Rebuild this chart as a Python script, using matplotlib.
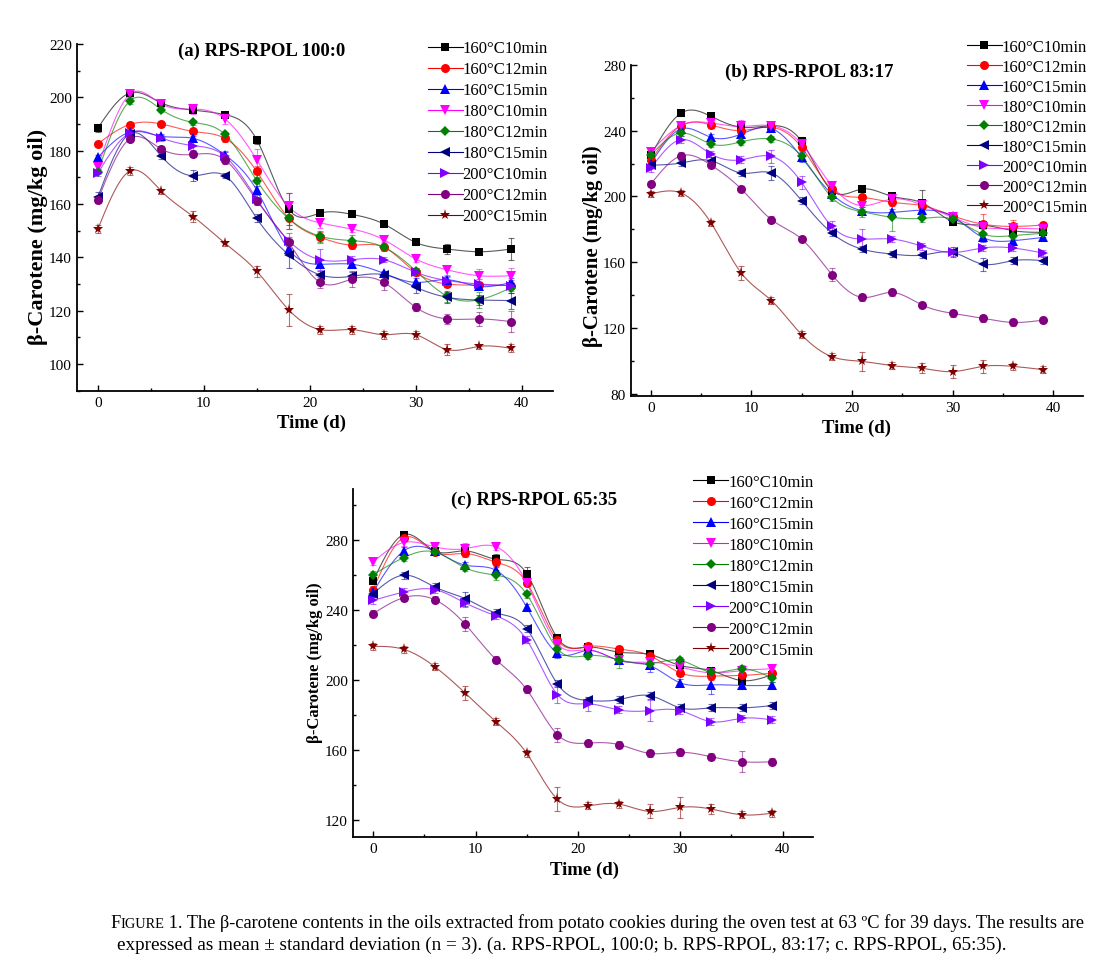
import numpy as np
import matplotlib
matplotlib.use('Agg')
import matplotlib.pyplot as plt
from matplotlib.lines import Line2D
from matplotlib.ticker import MultipleLocator

plt.rcParams['font.family'] = ['Liberation Serif', 'DejaVu Serif']
plt.rcParams['mathtext.fontset'] = 'stix'

# --- dữ liệu ---
days = [0, 3, 6, 9, 12, 15, 18, 21, 24, 27, 30, 33, 36, 39]
labels = ['160°C10min', '160°C12min', '160°C15min', '180°C10min', '180°C12min',
          '180°C15min', '200°C10min', '200°C12min', '200°C15min']

# (a) RPS-RPOL 100:0
a_vals = [
    [188.5, 201.6, 197.9, 195.2, 193.5, 184.1, 158.1, 156.6, 156.1, 152.5, 145.6, 143.1, 142.1, 143.1],
    [182.6, 189.8, 190.0, 187.2, 184.6, 172.2, 154.8, 147.5, 144.6, 143.8, 134.4, 130.0, 129.6, 129.4],
    [177.5, 186.9, 185.4, 184.6, 178.4, 165.2, 143.1, 137.4, 137.4, 134.0, 130.6, 131.6, 129.1, 130.6],
    [174.0, 201.1, 197.5, 195.6, 191.9, 176.6, 159.1, 152.9, 150.6, 146.6, 139.4, 135.3, 133.1, 133.1],
    [172.1, 198.6, 195.4, 190.6, 186.1, 168.8, 154.6, 147.9, 146.3, 143.8, 135.0, 125.4, 124.1, 128.6],
    [162.5, 186.3, 177.9, 170.6, 170.6, 154.6, 141.0, 133.4, 132.9, 133.5, 128.8, 125.0, 124.0, 123.8],
    [171.6, 186.6, 184.8, 181.9, 177.9, 161.9, 146.3, 139.1, 139.1, 139.1, 134.4, 131.3, 130.0, 129.4],
    [161.5, 184.4, 180.6, 178.6, 176.6, 161.3, 145.6, 130.6, 131.9, 130.6, 121.3, 116.9, 116.9, 115.9],
    [150.6, 172.3, 164.8, 155.3, 145.3, 134.8, 120.4, 112.9, 112.9, 111.0, 111.0, 105.4, 106.6, 105.9],
]
a_err = [
    [1.5, 1, 1, 1, 1, 1.5, 6, 1, 1, 1, 1, 2, 1, 4],
    [1, 1, 1, 1, 1.5, 2, 4, 2, 1.5, 1, 1, 1, 1, 1],
    [1, 1, 1, 1, 1, 1.5, 2, 1.5, 1.5, 1, 1.5, 1.5, 1, 1.5],
    [1, 1, 1, 2, 2, 4, 5, 2, 1, 1, 1, 2, 2.5, 3],
    [1, 1, 1, 1, 1, 1, 4, 2, 2, 1.5, 1, 2, 3, 2],
    [2, 1, 1, 2, 1, 1.5, 5, 1.5, 1.5, 1, 2, 2, 2, 3],
    [1, 1, 1, 1.5, 2, 1.5, 3, 4, 1.5, 1, 1.5, 1.5, 2, 2],
    [1, 1, 1, 1, 1.5, 1.5, 2, 2, 3, 3, 1.5, 2, 2.5, 4],
    [1.5, 1.5, 1, 2, 1, 2, 6, 1.5, 1.5, 1.5, 1.5, 2, 1, 1.5],
]

# (b) RPS-RPOL 83:17
b_vals = [
    [225.0, 250.6, 248.6, 242.0, 243.0, 233.4, 203.5, 204.5, 200.0, 196.0, 184.7, 182.6, 179.2, 178.2],
    [222.0, 243.0, 243.4, 240.0, 242.0, 229.8, 204.5, 199.4, 196.4, 194.4, 188.3, 183.2, 181.8, 182.6],
    [220.0, 241.0, 235.9, 237.9, 241.3, 223.7, 201.5, 191.3, 190.3, 191.7, 187.9, 175.1, 173.1, 175.1],
    [227.2, 243.0, 244.6, 242.5, 243.0, 231.8, 206.5, 194.4, 198.4, 194.8, 187.3, 181.2, 180.6, 180.2],
    [225.0, 238.5, 231.8, 233.2, 234.9, 224.3, 199.4, 190.7, 187.3, 186.7, 186.3, 177.2, 176.2, 177.6],
    [219.0, 220.3, 221.7, 214.2, 214.2, 197.4, 177.8, 168.0, 165.0, 164.4, 166.0, 158.9, 161.0, 161.0],
    [217.0, 234.5, 225.7, 222.3, 224.3, 208.5, 181.8, 174.1, 174.1, 169.7, 166.0, 168.7, 168.7, 165.6],
    [207.5, 224.7, 219.0, 204.5, 185.9, 174.1, 152.5, 138.7, 141.7, 134.0, 129.0, 126.0, 123.5, 124.9],
    [201.5, 202.1, 183.8, 153.5, 136.7, 116.0, 102.7, 99.8, 97.2, 95.6, 93.6, 96.8, 96.8, 94.8],
]
b_err = [
    [2, 2, 2, 2, 2, 3, 2, 1.5, 2, 8, 2, 2, 2, 1.5],
    [2, 2, 2, 2, 2, 2, 2, 2, 2, 2, 2, 6, 4, 2],
    [2, 2, 2, 2, 2, 3, 2, 2, 2, 2, 2, 3, 2, 2],
    [2, 2, 2, 4, 2, 2, 2, 2, 2, 2, 2, 3, 3, 2],
    [2, 2, 2, 2, 2, 2, 2, 3, 8, 2, 2, 3, 2, 2],
    [2, 2, 2, 2, 4, 2, 2, 2, 2, 2, 3, 4, 2, 2],
    [2, 2, 2, 2, 4, 4, 3, 6, 2, 2, 2, 2, 2, 2],
    [2, 2, 2, 2, 2, 2, 4, 2, 2, 2, 2, 2, 2, 2],
    [2, 2, 2, 4, 2, 2, 2, 6, 2, 3, 4, 4, 2, 2],
]

# (c) RPS-RPOL 65:35
c_vals = [
    [256.5, 283.0, 273.7, 273.7, 268.9, 260.7, 223.9, 218.7, 215.8, 214.5, 208.2, 205.3, 199.6, 203.0],
    [251.6, 281.3, 273.1, 272.2, 267.2, 255.6, 222.5, 219.1, 217.6, 213.9, 204.0, 202.1, 202.5, 203.8],
    [250.2, 273.7, 273.7, 265.5, 262.6, 241.6, 215.3, 216.8, 211.1, 208.2, 198.3, 197.1, 196.8, 196.8],
    [267.4, 278.5, 276.0, 275.0, 276.0, 255.4, 220.6, 217.2, 211.1, 210.1, 207.3, 204.0, 205.3, 206.3],
    [260.1, 269.9, 273.1, 264.0, 259.8, 248.9, 217.8, 213.9, 211.5, 209.2, 211.1, 204.4, 206.3, 201.0],
    [249.3, 259.8, 253.1, 246.4, 238.2, 229.2, 197.7, 188.2, 188.7, 191.0, 184.0, 184.0, 184.0, 185.3],
    [245.4, 250.2, 251.6, 243.9, 236.5, 222.9, 191.6, 186.3, 182.8, 182.4, 182.4, 176.1, 178.0, 177.1],
    [237.8, 247.0, 245.8, 231.7, 211.6, 194.5, 168.7, 163.9, 163.0, 158.0, 158.6, 156.1, 153.2, 153.2],
    [219.1, 217.4, 207.6, 192.4, 176.1, 158.0, 131.8, 128.0, 129.0, 124.8, 127.1, 126.2, 122.9, 123.8],
]
c_err = [
    [2, 2, 2, 2, 3, 4, 2, 2, 2, 2, 2, 2, 2, 2],
    [2, 2, 2, 2, 2, 2, 2, 2, 2, 2, 2, 2, 2, 2],
    [2, 2, 2, 2, 2, 2, 3, 2, 2, 4, 2, 5, 2, 2],
    [2, 2, 2, 3, 2, 2, 2, 2, 2, 2, 2, 2, 2, 2],
    [2, 2, 2, 2, 3, 2, 2, 2, 5, 2, 2, 2, 2, 2],
    [2, 2, 2, 4, 2, 2, 2, 2, 2, 2, 2, 2, 2, 2],
    [2, 2, 2, 2, 2, 2, 5, 4, 2, 6, 2, 2, 2, 2],
    [2, 2, 2, 4, 2, 2, 4, 2, 2, 2, 2, 2, 6, 2],
    [2, 2, 2, 4, 2, 2, 7, 2, 2, 4, 6, 3, 2, 2],
]

colors = ['#000000', '#FF0000', '#0000FF', '#FF00FF', '#008000',
          '#000080', '#8000FF', '#800080', '#800000']
markers = ['s', 'o', '^', 'v', 'D', '<', '>', 'o', '*']
msizes = [6, 6.5, 6.5, 6.5, 5.5, 6.5, 6.5, 6.5, 8]


def spline(x, y, n=300):
    # natural cubic spline, giống đường B-spline của Origin
    x = np.asarray(x, float)
    y = np.asarray(y, float)
    k = len(x)
    h = np.diff(x)
    A = np.zeros((k, k))
    r = np.zeros(k)
    A[0, 0] = A[-1, -1] = 1
    for i in range(1, k - 1):
        A[i, i - 1] = h[i - 1]
        A[i, i] = 2 * (h[i - 1] + h[i])
        A[i, i + 1] = h[i]
        r[i] = 6 * ((y[i + 1] - y[i]) / h[i] - (y[i] - y[i - 1]) / h[i - 1])
    M = np.linalg.solve(A, r)
    xs = np.linspace(x[0], x[-1], n)
    idx = np.clip(np.searchsorted(x, xs) - 1, 0, k - 2)
    x0, x1 = x[idx], x[idx + 1]
    hh = x1 - x0
    t0, t1 = x1 - xs, xs - x0
    ys = (M[idx] * t0 ** 3 + M[idx + 1] * t1 ** 3) / (6 * hh) \
        + (y[idx] / hh - M[idx] * hh / 6) * t0 + (y[idx + 1] / hh - M[idx + 1] * hh / 6) * t1
    return xs, ys


def draw_panel(ax, vals, errs, title, ylim, ymajor, yminor, title_xy, ylab_size, ylab_xy, xlab_xy):
    for v, e, c, m, ms in zip(vals, errs, colors, markers, msizes):
        xs, ys = spline(days, v)
        ax.plot(xs, ys, color=c, lw=0.8, alpha=0.65, zorder=2)
        ax.errorbar(days, v, yerr=e, fmt='none', ecolor=c, elinewidth=0.8,
                    capsize=2.5, capthick=0.8, alpha=0.55, zorder=2)
        ax.plot(days, v, linestyle='none', marker=m, color=c, ms=ms,
                markeredgewidth=0, zorder=3)
    ax.set_xlim(-2, 43)
    ax.set_ylim(*ylim)
    ax.xaxis.set_major_locator(MultipleLocator(10))
    ax.xaxis.set_minor_locator(MultipleLocator(5))
    ax.yaxis.set_major_locator(MultipleLocator(ymajor))
    ax.yaxis.set_minor_locator(MultipleLocator(yminor))
    ax.tick_params(which='both', direction='in', labelsize=11, width=1.0)
    ax.tick_params(which='major', length=4)
    ax.tick_params(which='minor', length=2)
    for s in ['top', 'right']:
        ax.spines[s].set_visible(False)
    for s in ['left', 'bottom']:
        ax.spines[s].set_linewidth(1.3)
    ax.set_xlabel('Time (d)', fontsize=13.5, fontweight='bold', va='center')
    ax.xaxis.set_label_coords(*xlab_xy)
    ax.set_ylabel('β-Carotene (mg/kg oil)', fontsize=ylab_size, fontweight='bold', va='center')
    ax.yaxis.set_label_coords(*ylab_xy)
    ax.text(title_xy[0], title_xy[1], title, transform=ax.transAxes, ha='center', va='center',
            fontsize=13.5, fontweight='bold')


fig = plt.figure(figsize=(11.08, 9.78), dpi=100)

ax_a = fig.add_axes([0.0692, 0.5995, 0.4302, 0.3545])
ax_b = fig.add_axes([0.5692, 0.5944, 0.4085, 0.3384])
ax_c = fig.add_axes([0.3183, 0.1428, 0.4157, 0.3561])

draw_panel(ax_a, a_vals, a_err, '(a) RPS-RPOL 100:0', (90, 220), 20, 10,
           (0.389, 0.983), 16, (-0.081, 0.446), (0.493, -0.090))
draw_panel(ax_b, b_vals, b_err, '(b) RPS-RPOL 83:17', (79, 280), 40, 20,
           (0.394, 0.981), 15, (-0.083, 0.455), (0.499, -0.095))
draw_panel(ax_c, c_vals, c_err, '(c) RPS-RPOL 65:35', (110, 309), 40, 20,
           (0.394, 0.971), 12, (-0.082, 0.503), (0.504, -0.091))

handles = [Line2D([], [], color=c, marker=m, ms=ms, lw=0.8, markeredgewidth=0)
           for c, m, ms in zip(colors, markers, msizes)]
for ax, pos, sp in [(ax_a, (0.386, 0.9576), 0.30),
                    (ax_b, (0.8727, 0.9591), 0.24),
                    (ax_c, (0.6255, 0.5148), 0.30)]:
    ax.legend(handles, labels, loc='upper left', bbox_to_anchor=pos,
              bbox_transform=fig.transFigure, frameon=False, fontsize=12,
              borderpad=0, borderaxespad=0, handlelength=2.1, handletextpad=0,
              labelspacing=sp)

# chú thích hình, chữ FIGURE kiểu small caps
fig.canvas.draw()
renderer = fig.canvas.get_renderer()
cap1 = 13.25
cap2 = 13.8
x0 = 110 / 1108
y1 = 1 - 928 / 978
parts = [('F', cap1), ('IGURE', cap1 * 0.78),
         (' 1. The β-carotene contents in the oils extracted from potato cookies during the oven test at 63 ºC for 39 days. The results are', cap1)]
x = x0
for s, fs in parts:
    t = fig.text(x, y1, s, fontsize=fs, ha='left', va='baseline')
    bb = t.get_window_extent(renderer)
    x = bb.x1 / fig.bbox.width
fig.text(117 / 1108, 1 - 950 / 978,
         'expressed as mean ± standard deviation (n = 3). (a. RPS-RPOL, 100:0; b. RPS-RPOL, 83:17; c. RPS-RPOL, 65:35).',
         fontsize=cap2, ha='left', va='baseline')

fig.savefig('out.png', dpi=100)
